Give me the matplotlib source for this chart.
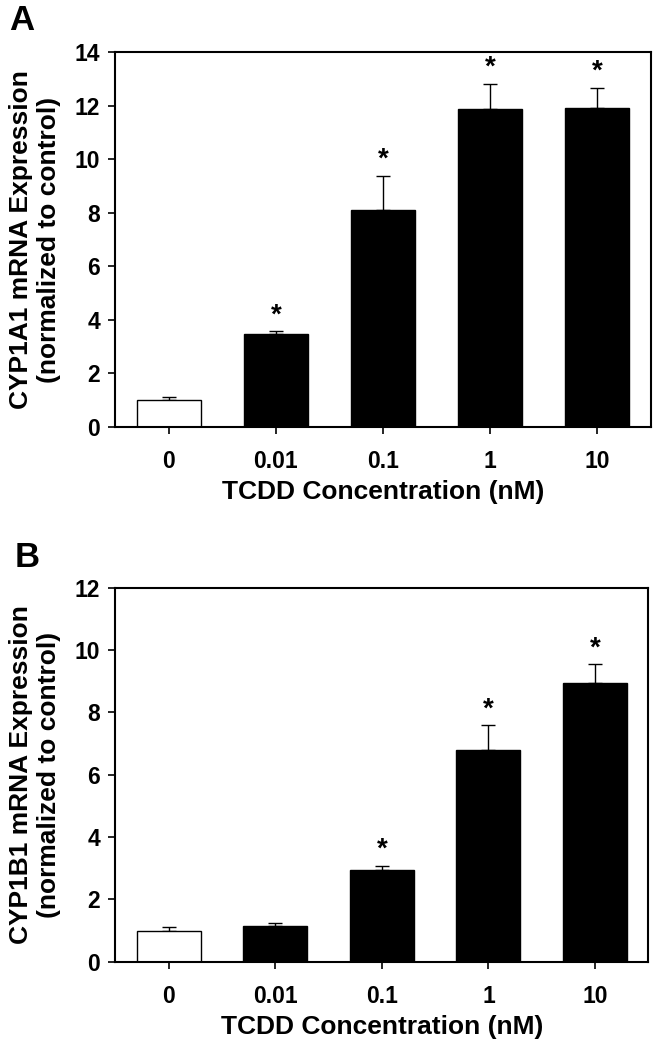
import matplotlib
matplotlib.use("Agg")
import matplotlib.pyplot as plt
import numpy as np

plt.rcParams['font.family'] = ['Liberation Sans', 'DejaVu Sans']
plt.rcParams['font.weight'] = 'bold'

categories = ["0", "0.01", "0.1", "1", "10"]
cyp1a1_mean = [1.0, 3.45, 8.10, 11.89, 11.91]
cyp1a1_err = [0.12, 0.13, 1.28, 0.93, 0.77]
cyp1a1_sig = [False, True, True, True, True]
cyp1b1_mean = [1.0, 1.15, 2.94, 6.79, 8.95]
cyp1b1_err = [0.10, 0.10, 0.14, 0.80, 0.59]
cyp1b1_sig = [False, False, True, True, True]
bar_colors = ["white", "black", "black", "black", "black"]

fig = plt.figure(figsize=(6.54, 10.5), dpi=100)
axA = fig.add_axes([0.1763, 0.5936, 0.8187, 0.3566])
axB = fig.add_axes([0.1763, 0.0841, 0.8150, 0.3562])

def draw(ax, means, errs, sig, ymax, ylabel, letter, lpos, xlabelpad):
    x = np.arange(len(categories))
    ax.bar(x, means, width=0.6, color=bar_colors, edgecolor="black", linewidth=1.0, zorder=2)
    ax.errorbar(x, means, yerr=[np.zeros(len(errs)), errs], fmt="none", ecolor="black",
                elinewidth=1.0, capsize=5, capthick=1.0, zorder=1)
    for xi, m, e, s in zip(x, means, errs, sig):
        if s:
            ax.annotate("*", xy=(xi, m + e), xytext=(0, 2), textcoords="offset points",
                        ha="center", va="bottom", fontsize=20, fontweight="bold")
    ax.set_xlim(-0.5, 4.5)
    ax.set_ylim(0, ymax)
    ax.set_yticks(np.arange(0, ymax + 1, 2))
    ax.set_xticks(x)
    ax.set_xticklabels(categories)
    ax.tick_params(axis="both", direction="out", length=5, width=1.2, labelsize=16.5, pad=6)
    ax.tick_params(axis="x", pad=12)
    for lbl in ax.get_xticklabels() + ax.get_yticklabels():
        lbl.set_fontweight("bold")
    for sp in ax.spines.values():
        sp.set_linewidth(1.5)
    ax.set_ylabel(ylabel, fontsize=19, fontweight="bold", labelpad=10, linespacing=1.2)
    ax.set_xlabel("TCDD Concentration (nM)", fontsize=19, fontweight="bold", labelpad=xlabelpad)
    ax.text(lpos[0], lpos[1], letter, transform=ax.transAxes, fontsize=25, fontweight="bold",
            ha="center", va="center")

draw(axA, cyp1a1_mean, cyp1a1_err, cyp1a1_sig, 14,
     "CYP1A1 mRNA Expression\n(normalized to control)", "A", (-0.175, 1.086), 5)
draw(axB, cyp1b1_mean, cyp1b1_err, cyp1b1_sig, 12,
     "CYP1B1 mRNA Expression\n(normalized to control)", "B", (-0.166, 1.081), 5)

fig.savefig("out.png", dpi=100)
